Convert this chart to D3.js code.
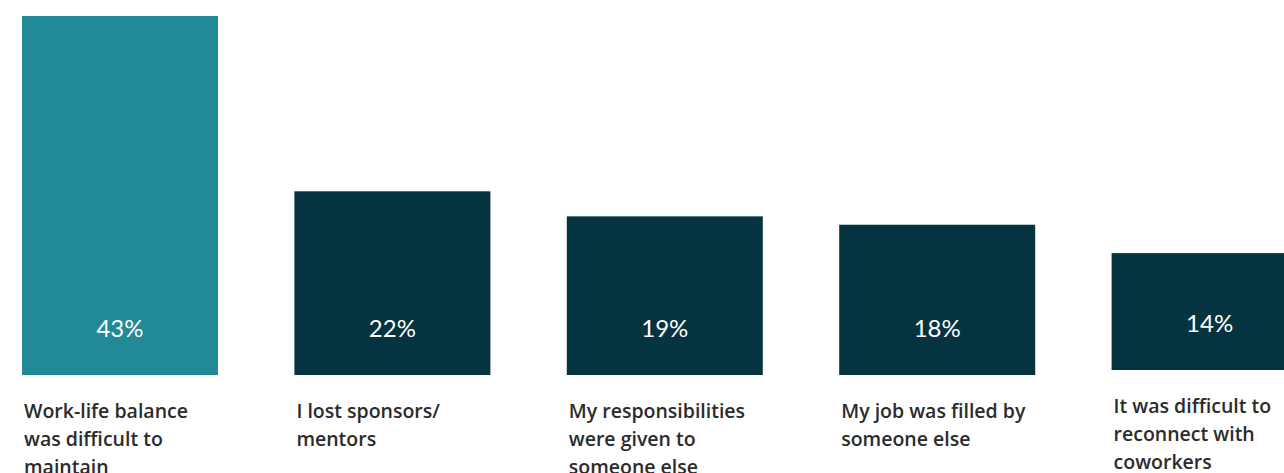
<!DOCTYPE html>
<html>
<head>
<meta charset="utf-8">
<script src="https://cdn.jsdelivr.net/npm/d3@7"></script>
<style>
  html, body { margin: 0; padding: 0; background: #ffffff; overflow: hidden; }
  svg { display: block; }
</style>
</head>
<body>
<svg id="chart" width="1284" height="473"></svg>
<script>
// Data
const categories = [
  "Work-life balance|was difficult to|maintain",
  "I lost sponsors/|mentors",
  "My responsibilities|were given to|someone else",
  "My job was filled by|someone else",
  "It was difficult to|reconnect with|coworkers"
];
const values = [43, 22, 19, 18, 14];
const valueLabels = ["43%", "22%", "19%", "18%", "14%"];
const highlight = [true, false, false, false, false];

const svg = d3.select("#chart");
const baseY = 375;
const step = 272.4, bw = 196;

const x = d3.scaleBand()
  .domain(categories)
  .range([22, 22 + 4 * step + bw])
  .paddingInner((step - bw) / step)
  .paddingOuter(0);

const y = d3.scaleLinear().domain([0, 43]).range([baseY, 16]);

const data = categories.map((c, i) => ({ c, v: values[i], lab: valueLabels[i], hi: highlight[i], i }));

const groups = svg.selectAll("g.col").data(data).enter().append("g")
  .attr("class", "col")
  // last column sits slightly higher in the original layout
  .attr("transform", d => `translate(0, ${d.i === data.length - 1 ? -5 : 0})`);

groups.append("rect")
  .attr("x", d => x(d.c))
  .attr("y", d => y(d.v))
  .attr("width", x.bandwidth())
  .attr("height", d => y(0) - y(d.v))
  .attr("fill", d => d.hi ? "#228996" : "#063340");

groups.append("text")
  .attr("x", d => x(d.c) + x.bandwidth() / 2)
  .attr("y", y(0) - 38)
  .attr("text-anchor", "middle")
  .attr("fill", "#ffffff")
  .style("font-family", "Lato, 'Open Sans', sans-serif")
  .style("font-size", "24px")
  .style("font-weight", 400)
  .text(d => d.lab);

const cat = groups.append("text")
  .attr("x", d => x(d.c) + 2)
  .attr("y", y(0) + 43)
  .attr("fill", "#2b2b2b")
  .style("font-family", "'Open Sans', sans-serif")
  .style("font-size", "19.5px")
  .style("font-weight", 600);

cat.each(function(d) {
  const lines = d.c.split("|");
  d3.select(this).selectAll("tspan").data(lines).enter().append("tspan")
    .attr("x", x(d.c) + 2)
    .attr("dy", (l, j) => j === 0 ? 0 : 28)
    .text(l => l);
});
</script>
</body>
</html>
